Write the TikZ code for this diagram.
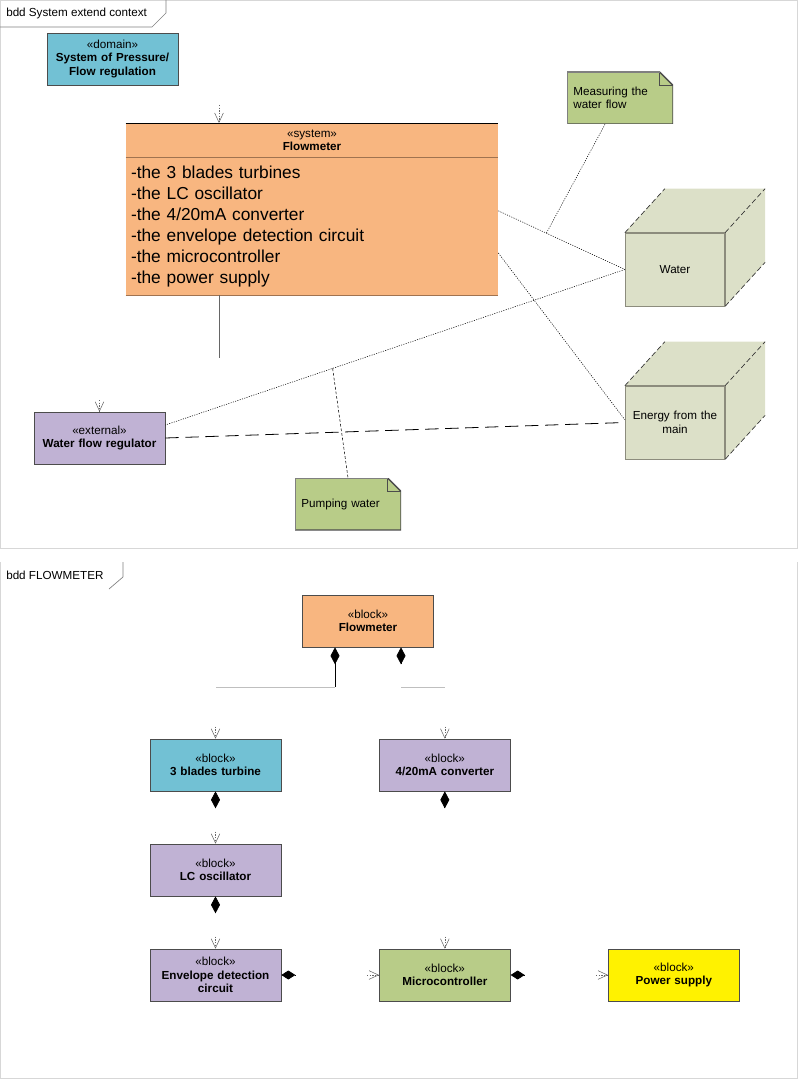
\documentclass[tikz,border=0pt]{standalone}
\usepackage{fontspec}
\setmainfont{Liberation Sans}
\usetikzlibrary{arrows.meta}
\usetikzlibrary{positioning}

\definecolor{blockblue}{RGB}{114,193,212}
\definecolor{blockorange}{RGB}{248,182,128}
\definecolor{blocklilac}{RGB}{192,178,212}
\definecolor{blockgreen}{RGB}{184,204,136}
\definecolor{cubefill}{RGB}{220,224,200}
\definecolor{cubeline}{RGB}{140,140,125}
\definecolor{frameline}{RGB}{215,215,215}
\definecolor{sysline}{RGB}{160,115,80}

\begin{document}
\begin{tikzpicture}[x = 0.75pt, y = -0.75pt]
\tikzset{
   node distance = 78.75pt, font = \fontsize{8.75}{10.2}\selectfont,
   block/.style = {rectangle, draw = black!70, line width = 0.5pt, minimum width = 98.25pt, minimum height = 39pt, text width = 92pt, align = center, inner sep = 2pt},
   block_blue/.style = {block, fill = blockblue},
   block_orange/.style = {block, fill = blockorange},
   block_lilac/.style = {block, fill = blocklilac},
   block_green/.style = {block, fill = blockgreen},
   block_yellow/.style = {block, fill = yellow},
   note/.style = {rectangle, fill = blockgreen, minimum width = 79.5pt, minimum height = 39pt, text width = 70pt, align = left, inner xsep = 4.5pt,
      path picture = {
         \fill[white] ([xshift = -10pt]path picture bounding box.north east) -- (path picture bounding box.north east) -- ([yshift = -10pt]path picture bounding box.north east) -- cycle;
         \draw[black!70, line width = 1pt] ([xshift = -10pt]path picture bounding box.north east) -- ([yshift = -10pt]path picture bounding box.north east) -- (path picture bounding box.south east) -- (path picture bounding box.south west);
         \draw[black!70, line width = 0.5pt] ([xshift = -10pt]path picture bounding box.north east) -- ([xshift = -10pt, yshift = -10pt]path picture bounding box.north east) -- ([yshift = -10pt]path picture bounding box.north east);
         \draw[gray, line width = 1pt] (path picture bounding box.south west) -- (path picture bounding box.north west) -- ([xshift = -10pt]path picture bounding box.north east);
      }},
   cube/.style = {rectangle, draw = cubeline, fill = cubefill, line width = 0.5pt, minimum width = 73.5pt, minimum height = 54.75pt, text width = 68pt, align = center},
   trace/.style = {draw, line width = 0.4pt, dash pattern = on 0.8pt off 1pt},
   pump_trace/.style = {draw, line width = 0.4pt, dash pattern = on 2pt off 1.5pt},
   long_dash/.style = {draw, line width = 0.6pt, dash pattern = on 10pt off 5pt},
   stub/.style = {draw = black!60, line width = 0.4pt, dash pattern = on 1pt off 1pt, -{Straight Barb[length = 7pt, width = 6.5pt]}},
   compo/.style = {draw, line width = 0.6pt, {Diamond[length = 12.75pt, width = 6.75pt]}-},
   compo_h/.style = {draw, line width = 0.6pt, {Diamond[length = 10.5pt, width = 6.75pt]}-},
   faint/.style = {draw = black!25, line width = 0.5pt},
   frame/.style = {draw = frameline, line width = 0.6pt}
}
\useasboundingbox (0,0) rectangle (798,1080);

% frames
\draw[frame] (0,0) rectangle (797,548);
\draw[draw = black!50, line width = 0.5pt] (0,27) -- (152,27) -- (166,13) -- (166,0);
\node[anchor = west, inner sep = 0pt] (title_context) at (6,13) {bdd System extend context};
\draw[frame] (0,562) -- (0,1078) -- (797,1078) -- (797,562);
\draw[draw = black!50, line width = 0.5pt] (123,562) -- (123,577) -- (109,589);
\node[anchor = west, inner sep = 0pt] (title_flowmeter) at (6,575) {bdd FLOWMETER};

% system extend context
\node[block_blue] (domain) at (112.5,59) {«domain»\\\textbf{System of Pressure/}\\\textbf{Flow regulation}};
\node[rectangle, fill = blockorange, minimum width = 279pt, minimum height = 25.5pt, anchor = north, inner sep = 0pt, align = center] (sys_head) at (312,123) {«system»\\\textbf{Flowmeter}};
\node[rectangle, fill = blockorange, minimum width = 279pt, minimum height = 102.75pt, text width = 271.5pt, inner xsep = 3.75pt, align = left,
      font = \fontsize{13}{15.75}\selectfont] (sys_attr) [below = 0pt of sys_head]
      {-the 3 blades turbines\\-the LC oscillator\\-the 4/20mA converter\\-the envelope detection circuit\\-the microcontroller\\-the power supply};
\draw[black, line width = 0.6pt] (sys_head.north west) -- (sys_head.north east);
\draw[sysline, line width = 0.6pt] (sys_attr.north west) -- (sys_attr.north east);
\draw[sysline, line width = 0.6pt] (sys_attr.south west) -- (sys_attr.south east);

\node[note] (measuring) at (620,98) {Measuring the\\water flow};
\node[note] (pumping) at (348,504) {Pumping water};
\node[block_lilac] (regulator) at (99.5,438) {«external»\\\textbf{Water flow regulator}};

\node[cube] (water) at (675,269.5) {Water};
\node[cube] (energy) at (675,422.5) {Energy from the\\main};
\foreach \c in {water, energy} {
   \fill[cubefill] (\c.north west) -- ([shift = {(40,-44)}]\c.north west) -- ([shift = {(40,-44)}]\c.north east) -- (\c.north east) -- cycle;
   \fill[cubefill] (\c.north east) -- ([shift = {(40,-44)}]\c.north east) -- ([shift = {(40,-44)}]\c.south east) -- (\c.south east) -- cycle;
   \draw[cubeline, line width = 0.5pt] (\c.north west) -- (\c.north east) -- (\c.south east);
   \draw[black!80, line width = 0.5pt, dash pattern = on 4pt off 2pt] (\c.north west) -- ([shift = {(40,-44)}]\c.north west);
   \draw[black!80, line width = 0.5pt, dash pattern = on 4pt off 2pt] (\c.north east) -- ([shift = {(40,-44)}]\c.north east);
   \draw[black!80, line width = 0.5pt, dash pattern = on 4pt off 2pt] (\c.south east) -- ([shift = {(40,-44)}]\c.south east);
}

\coordinate (domain_end) at (219,105);
\draw[stub] (domain_end) -- ([xshift = -69.75pt]sys_head.north);
\coordinate (sys_tail) at (219,358);
\draw[draw = black!60, line width = 0.5pt] ([xshift = -69.75pt]sys_attr.south) -- (sys_tail);
\coordinate (regulator_end) at (99.5,400);
\draw[stub] (regulator_end) -- (regulator.north);

\draw[trace] ([yshift = 11.6pt]sys_attr.east) -- coordinate[pos = 0.38] (measuring_hit) (water.west);
\draw[trace] ([yshift = -20pt]sys_attr.east) -- ([yshift = 2pt]energy.west);
\draw[trace] (water.west) -- coordinate[pos = 0.636] (pumping_hit) ([yshift = 9.75pt]regulator.east);
\draw[trace] ([xshift = -11.25pt]measuring.south) -- (measuring_hit);
\draw[pump_trace] (pumping_hit) -- (pumping.north);
\draw[long_dash] (regulator.east) -- (energy.west);

% flowmeter structure
\node[block_orange] (fm_block) at (368,621) {«block»\\\textbf{Flowmeter}};
\node[block_blue] (turbine) at (215.5,765) {«block»\\\textbf{3 blades turbine}};
\node[block_lilac] (lc_osc) [below of = turbine] {«block»\\\textbf{LC oscillator}};
\node[block_lilac] (envelope) [below of = lc_osc] {«block»\\\textbf{Envelope detection}\\\textbf{circuit}};
\node[block_lilac] (converter) [right of = turbine, node distance = 172pt] {«block»\\\textbf{4/20mA converter}};
\node[block_green] (micro) [right of = envelope, node distance = 172pt] {«block»\\\textbf{Microcontroller}};
\node[block_yellow] (power) [right of = micro, node distance = 171.75pt] {«block»\\\textbf{Power supply}};

\coordinate (fm_knee_a) at ([xshift = -24.75pt, yshift = -30pt]fm_block.south);
\coordinate (fm_knee_b) at ([xshift = 24.75pt, yshift = -30pt]fm_block.south);
\coordinate (fm_tip_b) at ([xshift = 24.75pt, yshift = -12.75pt]fm_block.south);
\draw[compo] ([xshift = -24.75pt]fm_block.south) -- (fm_knee_a);
\draw[faint] (fm_knee_a) -- (fm_knee_a -| turbine.north);
\draw[compo] ([xshift = 24.75pt]fm_block.south) -- (fm_tip_b);
\draw[faint] (fm_knee_b) -- (fm_knee_b -| converter.north);

\foreach \b in {turbine, converter, lc_osc} {
   \coordinate (\b_tip) at ([yshift = -12.75pt]\b.south);
   \draw[compo] (\b.south) -- (\b_tip);
}
\foreach \b in {envelope, micro} {
   \coordinate (\b_tip) at ([xshift = 10.5pt]\b.east);
   \draw[compo_h] (\b.east) -- (\b_tip);
}
\foreach \b in {turbine, converter, lc_osc, envelope, micro} {
   \coordinate (\b_in) at ([yshift = 9pt]\b.north);
   \draw[stub] (\b_in) -- (\b.north);
}
\foreach \b in {micro, power} {
   \coordinate (\b_left) at ([xshift = -9pt]\b.west);
   \draw[stub] (\b_left) -- (\b.west);
}

\end{tikzpicture}
\end{document}
